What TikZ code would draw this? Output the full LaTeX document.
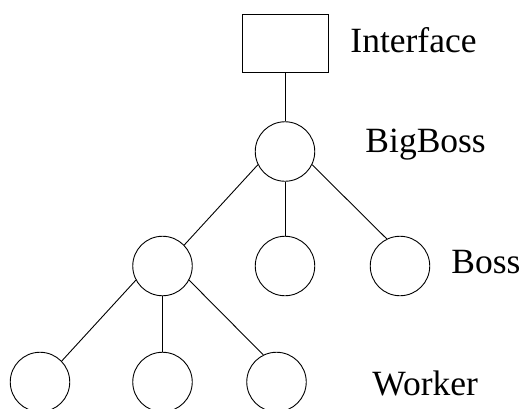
\documentclass[tikz,border=0pt]{standalone}
\usepackage{fontspec}
\setmainfont{Liberation Serif}
\begin{document}
\begin{tikzpicture}[x=1pt,y=-1pt,line width=0.9pt,
  unit/.style={circle,draw,minimum size=59.5pt,inner sep=0pt},
  box/.style={rectangle,draw,minimum width=86pt,minimum height=58pt,inner sep=0pt},
  lbl/.style={anchor=base west,inner sep=0pt,font=\fontsize{35.5}{42}\selectfont}]
\useasboundingbox (0,0) rectangle (525,408);
\clip (0,0) rectangle (525,408);
\node[box] (iface) at (285,43) {};
\node[unit] (bb) at (285,151.5) {};
\node[unit] (b1) at (162.5,266) {};
\node[unit] (b2) at (285,266) {};
\node[unit] (b3) at (400,266) {};
\node[unit] (w1) at (40,382) {};
\node[unit] (w2) at (162.5,382) {};
\node[unit] (w3) at (276.5,382) {};
\node[lbl] (tI) at (350,52) {Interface};
\node[lbl] (tB) at (365,152) {BigBoss};
\node[lbl] (tS) at (451,273) {Boss};
\node[lbl] (tW) at (372,395) {Worker};
\draw (iface.south) -- (bb.north);
\draw (bb.206) -- (b1.44);
\draw (bb.south) -- (b2.north);
\draw (bb.334) -- (b3.116);
\draw (b1.208) -- (w1.44);
\draw (b1.south) -- (w2.north);
\draw (b1.332) -- (w3.116);
\end{tikzpicture}
\end{document}
